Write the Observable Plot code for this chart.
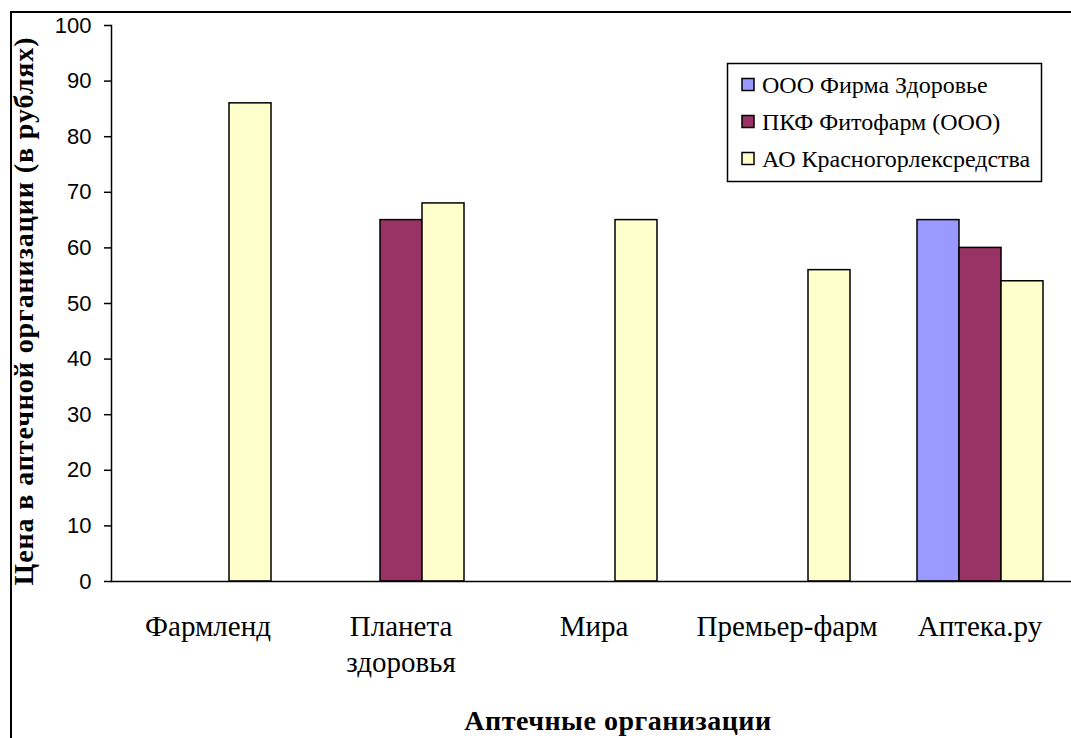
<!DOCTYPE html>
<html><head><meta charset="utf-8">
<script src="https://cdn.jsdelivr.net/npm/d3@7"></script>
<script src="https://cdn.jsdelivr.net/npm/@observablehq/plot@0.6"></script>
<style>
body{margin:0;background:#fff;}
#wrap{position:relative;width:1071px;height:738px;overflow:hidden;background:#fff;}
#wrap svg{position:absolute;left:0;top:0;}
.border{position:absolute;left:10px;top:11px;width:1100px;height:800px;border-top:2px solid #000;border-left:2px solid #000;}
</style></head><body><div id="wrap"></div>
<script>
const categories = ["Фармленд", "Планета\nздоровья", "Мира", "Премьер-фарм", "Аптека.ру"];
const seriesNames = ["ООО Фирма Здоровье", "ПКФ Фитофарм (ООО)", "АО Красногорлексредства"];
const seriesColors = ["#9999FF", "#993366", "#FFFFCC"];
const valuesZdorovie = [null, null, null, null, 65];
const valuesFitofarm = [null, 65, null, null, 60];
const valuesKrasno = [86, 68, 65, 56, 54];
const yTicks = [0, 10, 20, 30, 40, 50, 60, 70, 80, 90, 100];
const yTitle = "Цена в аптечной организации (в рублях)";
const xTitle = "Аптечные организации";

const serif = "Liberation Serif, Times New Roman, serif";

const rows = [];
[valuesZdorovie, valuesFitofarm, valuesKrasno].forEach((vals, si) =>
  vals.forEach((v, ci) => { if (v != null) rows.push({category: categories[ci], series: seriesNames[si], value: v}); }));

const chart = Plot.plot({
  width: 1071, height: 738,
  marginLeft: 110, marginRight: -6, marginTop: 25, marginBottom: 157,
  style: {background: "transparent", overflow: "hidden", color: "black"},
  fx: {domain: categories, padding: 0, label: null},
  x: {domain: seriesNames, paddingInner: 0, paddingOuter: 0.78, axis: null},
  y: {domain: [0, 100], label: null},
  color: {domain: seriesNames, range: seriesColors},
  marks: [
    Plot.barY(rows, {fx: "category", x: "series", y: "value", fill: "series", stroke: "black", strokeWidth: 1.5, inset: 0}),
    Plot.ruleY([0], {stroke: "black", strokeWidth: 1.5}),
    Plot.frame({anchor: "left", stroke: "black", strokeWidth: 1.5, facetAnchor: "left"}),
    Plot.axisY({ticks: yTicks, tickSize: 7, tickPadding: 13, fontSize: 22, fontFamily: "Liberation Sans, Arial, sans-serif", label: null, stroke: "black", strokeWidth: 1.5}),
    Plot.axisFx({anchor: "bottom", tickSize: 0, tickPadding: 28, fontSize: 29, fontFamily: serif, lineHeight: 1.27, label: null})
  ]
});

const wrap = document.getElementById("wrap");
wrap.appendChild(chart);

const svg = d3.select(chart);

// Axis titles
svg.append("text")
  .attr("transform", "translate(33,311) rotate(-90)")
  .attr("text-anchor", "middle")
  .attr("font-family", serif).attr("font-weight", "bold").attr("font-size", 28)
  .attr("letter-spacing", 0.9).attr("fill", "black")
  .text(yTitle);
svg.append("text")
  .attr("x", 618).attr("y", 730)
  .attr("text-anchor", "middle")
  .attr("font-family", serif).attr("font-weight", "bold").attr("font-size", 28)
  .attr("letter-spacing", 0.5).attr("fill", "black")
  .text(xTitle);

// Legend
const lg = svg.append("g").attr("text-anchor", "start");
lg.append("rect").attr("x", 727.5).attr("y", 63.5).attr("width", 314).attr("height", 118)
  .attr("fill", "white").attr("stroke", "black").attr("stroke-width", 1.5);
seriesNames.forEach((name, i) => {
  const cy = 85 + i * 37;
  lg.append("rect").attr("x", 742).attr("y", cy - 6.5).attr("width", 12).attr("height", 12)
    .attr("fill", seriesColors[i]).attr("stroke", "black").attr("stroke-width", 1.5);
  lg.append("text").attr("x", 762).attr("y", cy + 8)
    .attr("text-anchor", "start")
    .attr("font-family", serif).attr("font-size", 24).attr("fill", "black")
    .text(name);
});

const border = document.createElement("div");
border.className = "border";
wrap.appendChild(border);
</script></body></html>
